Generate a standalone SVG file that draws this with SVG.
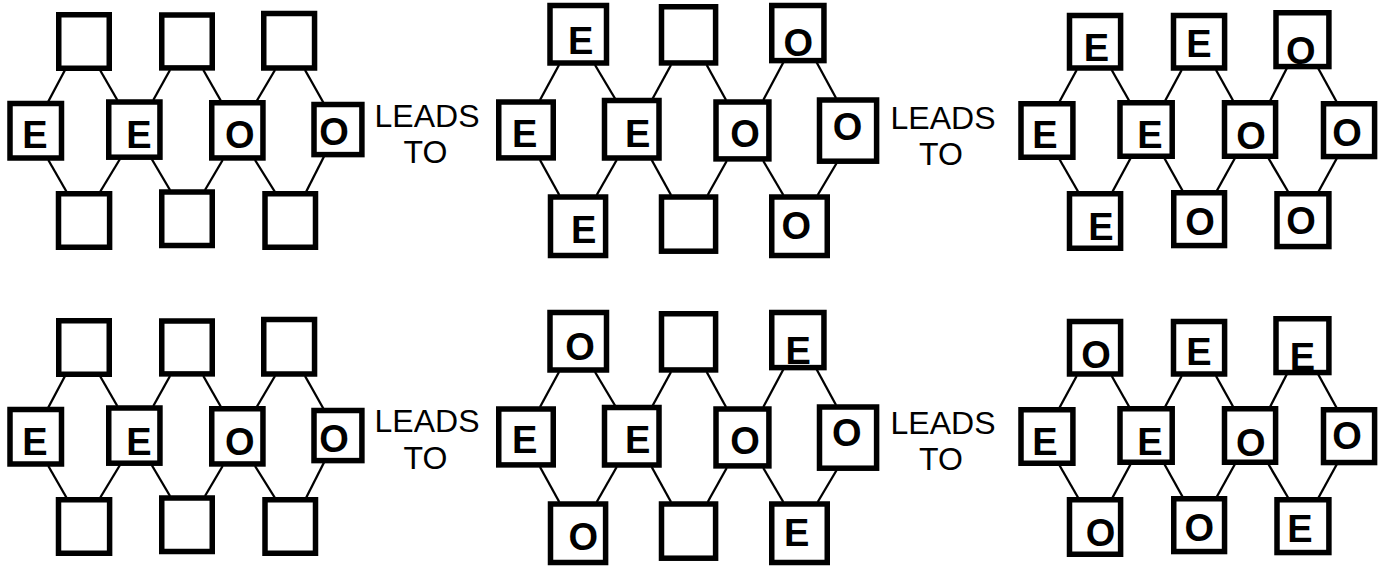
<svg xmlns="http://www.w3.org/2000/svg" width="1386" height="566" viewBox="0 0 1386 566">
<style>
.box{fill:#fff;stroke:#000;stroke-width:5.5}
.lbl{font-family:"Liberation Sans",Arial,Helvetica,sans-serif;font-weight:bold;font-size:38px;text-anchor:middle;fill:#000}
.lt{font-family:"Liberation Sans",Arial,Helvetica,sans-serif;font-size:32px;text-anchor:middle;fill:#000}
.con line{stroke:#000;stroke-width:2.3}
</style>
<rect width="1386" height="566" fill="#fff"/>

<!-- Panel 1 -->
<g id="panel1">
<g id="p1-connectors" class="con">
<line x1="65" y1="70" x2="48.3" y2="101.5"/>
<line x1="100" y1="70" x2="117.3" y2="100"/>
<line x1="170" y1="70" x2="153.3" y2="100"/>
<line x1="203.3" y1="70" x2="221" y2="101"/>
<line x1="275" y1="70" x2="256.7" y2="101"/>
<line x1="305" y1="70" x2="323.3" y2="102.5"/>
<line x1="48.3" y1="160" x2="66.7" y2="192"/>
<line x1="120" y1="159" x2="100" y2="192"/>
<line x1="151.7" y1="159" x2="170" y2="190"/>
<line x1="222.7" y1="160" x2="205" y2="190"/>
<line x1="255" y1="160" x2="275" y2="192"/>
<line x1="324" y1="156.5" x2="306" y2="192"/>
</g>
<g id="p1-t1"><rect class="box" x="58.75" y="14.75" width="50.5" height="53.5"/></g>
<g id="p1-t2"><rect class="box" x="161.75" y="15" width="50.5" height="52.9"/></g>
<g id="p1-t3"><rect class="box" x="263.75" y="13.5" width="50.8" height="54.5"/></g>
<g id="p1-m1"><rect class="box" x="10" y="103.5" width="51.5" height="54.5"/><text class="lbl" x="35" y="147.7">E</text></g>
<g id="p1-m2"><rect class="box" x="108.75" y="102" width="51.2" height="55.2"/><text class="lbl" x="139" y="147.7">E</text></g>
<g id="p1-m3"><rect class="box" x="211.75" y="102.75" width="51.2" height="55.2"/><text class="lbl" x="239.7" y="147.5">O</text></g>
<g id="p1-m4"><rect class="box" x="314" y="104.5" width="47.9" height="50.1"/><text class="lbl" x="334" y="145">O</text></g>
<g id="p1-b1"><rect class="box" x="58.5" y="193.75" width="51.1" height="53.5"/></g>
<g id="p1-b2"><rect class="box" x="161.75" y="192" width="50.5" height="53.5"/></g>
<g id="p1-b3"><rect class="box" x="265" y="193.75" width="50.5" height="53.5"/></g>
</g>

<!-- Panel 4 -->
<g id="panel4" transform="translate(0,306)">
<g id="p4-connectors" class="con">
<line x1="65" y1="70" x2="48.3" y2="101.5"/>
<line x1="100" y1="70" x2="117.3" y2="100"/>
<line x1="170" y1="70" x2="153.3" y2="100"/>
<line x1="203.3" y1="70" x2="221" y2="101"/>
<line x1="275" y1="70" x2="256.7" y2="101"/>
<line x1="305" y1="70" x2="323.3" y2="102.5"/>
<line x1="48.3" y1="160" x2="66.7" y2="192"/>
<line x1="120" y1="159" x2="100" y2="192"/>
<line x1="151.7" y1="159" x2="170" y2="190"/>
<line x1="222.7" y1="160" x2="205" y2="190"/>
<line x1="255" y1="160" x2="275" y2="192"/>
<line x1="324" y1="156.5" x2="306" y2="192"/>
</g>
<g id="p4-t1"><rect class="box" x="58.75" y="14.75" width="50.5" height="53.5"/></g>
<g id="p4-t2"><rect class="box" x="161.75" y="15" width="50.5" height="52.9"/></g>
<g id="p4-t3"><rect class="box" x="263.75" y="13.5" width="50.8" height="54.5"/></g>
<g id="p4-m1"><rect class="box" x="10" y="103.5" width="51.5" height="54.5"/><text class="lbl" x="35" y="148.5">E</text></g>
<g id="p4-m2"><rect class="box" x="108.75" y="102" width="51.2" height="55.2"/><text class="lbl" x="139" y="148.5">E</text></g>
<g id="p4-m3"><rect class="box" x="211.75" y="102.75" width="51.2" height="55.2"/><text class="lbl" x="239.7" y="148.5">O</text></g>
<g id="p4-m4"><rect class="box" x="314" y="104.5" width="47.9" height="50.1"/><text class="lbl" x="334" y="145.5">O</text></g>
<g id="p4-b1"><rect class="box" x="58.5" y="193.75" width="51.1" height="53.5"/></g>
<g id="p4-b2"><rect class="box" x="161.75" y="192" width="50.5" height="53.5"/></g>
<g id="p4-b3"><rect class="box" x="265" y="193.75" width="50.5" height="53.5"/></g>
</g>

<!-- LEADS TO labels -->
<g id="leads1"><text class="lt" x="427" y="126.7">LEADS</text><text class="lt" x="425.5" y="162.7">TO</text></g>
<g id="leads2"><text class="lt" x="943" y="129">LEADS</text><text class="lt" x="941" y="165">TO</text></g>
<g id="leads3"><text class="lt" x="427" y="432.3">LEADS</text><text class="lt" x="425.5" y="469">TO</text></g>
<g id="leads4"><text class="lt" x="943" y="433.5">LEADS</text><text class="lt" x="941" y="469.5">TO</text></g>

<!-- Panel 2 -->
<g id="panel2">
<g id="p2-connectors" class="con">
<line x1="559" y1="65" x2="540" y2="100"/>
<line x1="595" y1="65" x2="615" y2="98.5"/>
<line x1="671" y1="65" x2="652.7" y2="98.5"/>
<line x1="706.7" y1="65" x2="726" y2="100"/>
<line x1="783.3" y1="62.5" x2="763.3" y2="100"/>
<line x1="816.7" y1="62.5" x2="836" y2="98"/>
<line x1="540" y1="160" x2="559.3" y2="195"/>
<line x1="616.7" y1="160" x2="596.7" y2="195"/>
<line x1="651.7" y1="160" x2="671" y2="195"/>
<line x1="726.7" y1="161" x2="707.7" y2="195"/>
<line x1="763.3" y1="161" x2="783.3" y2="195"/>
<line x1="836.7" y1="163" x2="817.7" y2="195"/>
</g>
<g id="p2-t1"><rect class="box" x="550" y="5.5" width="56.5" height="57.5"/><text class="lbl" x="580.8" y="54.3">E</text></g>
<g id="p2-t2"><rect class="box" x="661.5" y="6.75" width="54.1" height="56.2"/></g>
<g id="p2-t3"><rect class="box" x="771.75" y="5.5" width="52.2" height="55.1"/><text class="lbl" x="798.3" y="56">O</text></g>
<g id="p2-m1"><rect class="box" x="498.75" y="102" width="54.5" height="55.9"/><text class="lbl" x="524.8" y="146.7">E</text></g>
<g id="p2-m2"><rect class="box" x="604.5" y="100.5" width="54.5" height="57.5"/><text class="lbl" x="637.8" y="146.7">E</text></g>
<g id="p2-m3"><rect class="box" x="716" y="102" width="52.9" height="56.9"/><text class="lbl" x="745" y="147.3">O</text></g>
<g id="p2-m4"><rect class="box" x="819.5" y="100" width="57.1" height="61.2"/><text class="lbl" x="847.5" y="140">O</text></g>
<g id="p2-b1"><rect class="box" x="550.5" y="197" width="55.1" height="58.5"/><text class="lbl" x="583.8" y="242.7">E</text></g>
<g id="p2-b2"><rect class="box" x="661.5" y="197" width="54.1" height="54.2"/></g>
<g id="p2-b3"><rect class="box" x="771.75" y="197" width="55.5" height="58.5"/><text class="lbl" x="796.3" y="239">O</text></g>
</g>

<!-- Panel 5 -->
<g id="panel5" transform="translate(0,307)">
<g id="p5-connectors" class="con">
<line x1="559" y1="65" x2="540" y2="100"/>
<line x1="595" y1="65" x2="615" y2="98.5"/>
<line x1="671" y1="65" x2="652.7" y2="98.5"/>
<line x1="706.7" y1="65" x2="726" y2="100"/>
<line x1="783.3" y1="62.5" x2="763.3" y2="100"/>
<line x1="816.7" y1="62.5" x2="836" y2="98"/>
<line x1="540" y1="160" x2="559.3" y2="195"/>
<line x1="616.7" y1="160" x2="596.7" y2="195"/>
<line x1="651.7" y1="160" x2="671" y2="195"/>
<line x1="726.7" y1="161" x2="707.7" y2="195"/>
<line x1="763.3" y1="161" x2="783.3" y2="195"/>
<line x1="836.7" y1="163" x2="817.7" y2="195"/>
</g>
<g id="p5-t1"><rect class="box" x="550" y="5.5" width="56.5" height="57.5"/><text class="lbl" x="580" y="53">O</text></g>
<g id="p5-t2"><rect class="box" x="661.5" y="6.75" width="54.1" height="56.2"/></g>
<g id="p5-t3"><rect class="box" x="771.75" y="5.5" width="52.2" height="55.1"/><text class="lbl" x="798.3" y="57">E</text></g>
<g id="p5-m1"><rect class="box" x="498.75" y="102" width="54.5" height="55.9"/><text class="lbl" x="524.8" y="146.3">E</text></g>
<g id="p5-m2"><rect class="box" x="604.5" y="100.5" width="54.5" height="57.5"/><text class="lbl" x="637.8" y="146.3">E</text></g>
<g id="p5-m3"><rect class="box" x="716" y="102" width="52.9" height="56.9"/><text class="lbl" x="745" y="146.5">O</text></g>
<g id="p5-m4"><rect class="box" x="819.5" y="100" width="57.1" height="61.2"/><text class="lbl" x="846.7" y="139">O</text></g>
<g id="p5-b1"><rect class="box" x="550.5" y="197" width="55.1" height="58.5"/><text class="lbl" x="583.3" y="242.5">O</text></g>
<g id="p5-b2"><rect class="box" x="661.5" y="197" width="54.1" height="54.2"/></g>
<g id="p5-b3"><rect class="box" x="771.75" y="197" width="55.5" height="58.5"/><text class="lbl" x="796.7" y="239">E</text></g>
</g>

<!-- Panel 3 -->
<g id="panel3">
<g id="p3-connectors" class="con">
<line x1="1076.7" y1="70" x2="1059.3" y2="102"/>
<line x1="1111.7" y1="70" x2="1129.3" y2="101"/>
<line x1="1181.7" y1="70" x2="1165" y2="101"/>
<line x1="1216" y1="70" x2="1233.3" y2="101"/>
<line x1="1286.7" y1="68.5" x2="1270" y2="101"/>
<line x1="1318.3" y1="68.5" x2="1336.7" y2="102"/>
<line x1="1059.3" y1="159" x2="1078.3" y2="192"/>
<line x1="1130.7" y1="158" x2="1112.3" y2="192"/>
<line x1="1164.3" y1="158" x2="1182.7" y2="191"/>
<line x1="1235" y1="158" x2="1216.7" y2="191"/>
<line x1="1268.3" y1="158" x2="1288.3" y2="192"/>
<line x1="1336.7" y1="158.5" x2="1318.3" y2="192"/>
</g>
<g id="p3-t1"><rect class="box" x="1069.5" y="15.5" width="51.1" height="52.5"/><text class="lbl" x="1096.5" y="61">E</text></g>
<g id="p3-t2"><rect class="box" x="1173.5" y="15.5" width="51.1" height="52.5"/><text class="lbl" x="1199" y="57.3">E</text></g>
<g id="p3-t3"><rect class="box" x="1276" y="12.75" width="52.9" height="53.8"/><text class="lbl" x="1300.8" y="63.5">O</text></g>
<g id="p3-m1"><rect class="box" x="1021" y="103.75" width="51.9" height="53.5"/><text class="lbl" x="1045" y="148.3">E</text></g>
<g id="p3-m2"><rect class="box" x="1120" y="102.75" width="52.2" height="53.5"/><text class="lbl" x="1150" y="148.3">E</text></g>
<g id="p3-m3"><rect class="box" x="1224.5" y="102.75" width="51.1" height="53.5"/><text class="lbl" x="1251" y="149">O</text></g>
<g id="p3-m4"><rect class="box" x="1323.5" y="103.75" width="51.1" height="52.8"/><text class="lbl" x="1347" y="145.5">O</text></g>
<g id="p3-b1"><rect class="box" x="1069.5" y="193.75" width="51.1" height="54.5"/><text class="lbl" x="1101" y="240">E</text></g>
<g id="p3-b2"><rect class="box" x="1173.75" y="192.75" width="50.8" height="52.8"/><text class="lbl" x="1200" y="234.5">O</text></g>
<g id="p3-b3"><rect class="box" x="1277" y="193.75" width="51.9" height="52.8"/><text class="lbl" x="1301" y="234">O</text></g>
</g>

<!-- Panel 6 -->
<g id="panel6" transform="translate(0,306)">
<g id="p6-connectors" class="con">
<line x1="1076.7" y1="70" x2="1059.3" y2="102"/>
<line x1="1111.7" y1="70" x2="1129.3" y2="101"/>
<line x1="1181.7" y1="70" x2="1165" y2="101"/>
<line x1="1216" y1="70" x2="1233.3" y2="101"/>
<line x1="1286.7" y1="68.5" x2="1270" y2="101"/>
<line x1="1318.3" y1="68.5" x2="1336.7" y2="102"/>
<line x1="1059.3" y1="159" x2="1078.3" y2="192"/>
<line x1="1130.7" y1="158" x2="1112.3" y2="192"/>
<line x1="1164.3" y1="158" x2="1182.7" y2="191"/>
<line x1="1235" y1="158" x2="1216.7" y2="191"/>
<line x1="1268.3" y1="158" x2="1288.3" y2="192"/>
<line x1="1336.7" y1="158.5" x2="1318.3" y2="192"/>
</g>
<g id="p6-t1"><rect class="box" x="1069.5" y="15.5" width="51.1" height="52.5"/><text class="lbl" x="1096" y="62">O</text></g>
<g id="p6-t2"><rect class="box" x="1173.5" y="15.5" width="51.1" height="52.5"/><text class="lbl" x="1199" y="59">E</text></g>
<g id="p6-t3"><rect class="box" x="1276" y="12.75" width="52.9" height="53.8"/><text class="lbl" x="1302.5" y="64">E</text></g>
<g id="p6-m1"><rect class="box" x="1021" y="103.75" width="51.9" height="53.5"/><text class="lbl" x="1045" y="149">E</text></g>
<g id="p6-m2"><rect class="box" x="1120" y="102.75" width="52.2" height="53.5"/><text class="lbl" x="1150" y="149">E</text></g>
<g id="p6-m3"><rect class="box" x="1224.5" y="102.75" width="51.1" height="53.5"/><text class="lbl" x="1250.7" y="149.5">O</text></g>
<g id="p6-m4"><rect class="box" x="1323.5" y="103.75" width="51.1" height="52.8"/><text class="lbl" x="1347" y="143">O</text></g>
<g id="p6-b1"><rect class="box" x="1069.5" y="193.75" width="51.1" height="54.5"/><text class="lbl" x="1100.5" y="240">O</text></g>
<g id="p6-b2"><rect class="box" x="1173.75" y="192.75" width="50.8" height="52.8"/><text class="lbl" x="1199.3" y="235">O</text></g>
<g id="p6-b3"><rect class="box" x="1277" y="193.75" width="51.9" height="52.8"/><text class="lbl" x="1300" y="235.5">E</text></g>
</g>
</svg>
